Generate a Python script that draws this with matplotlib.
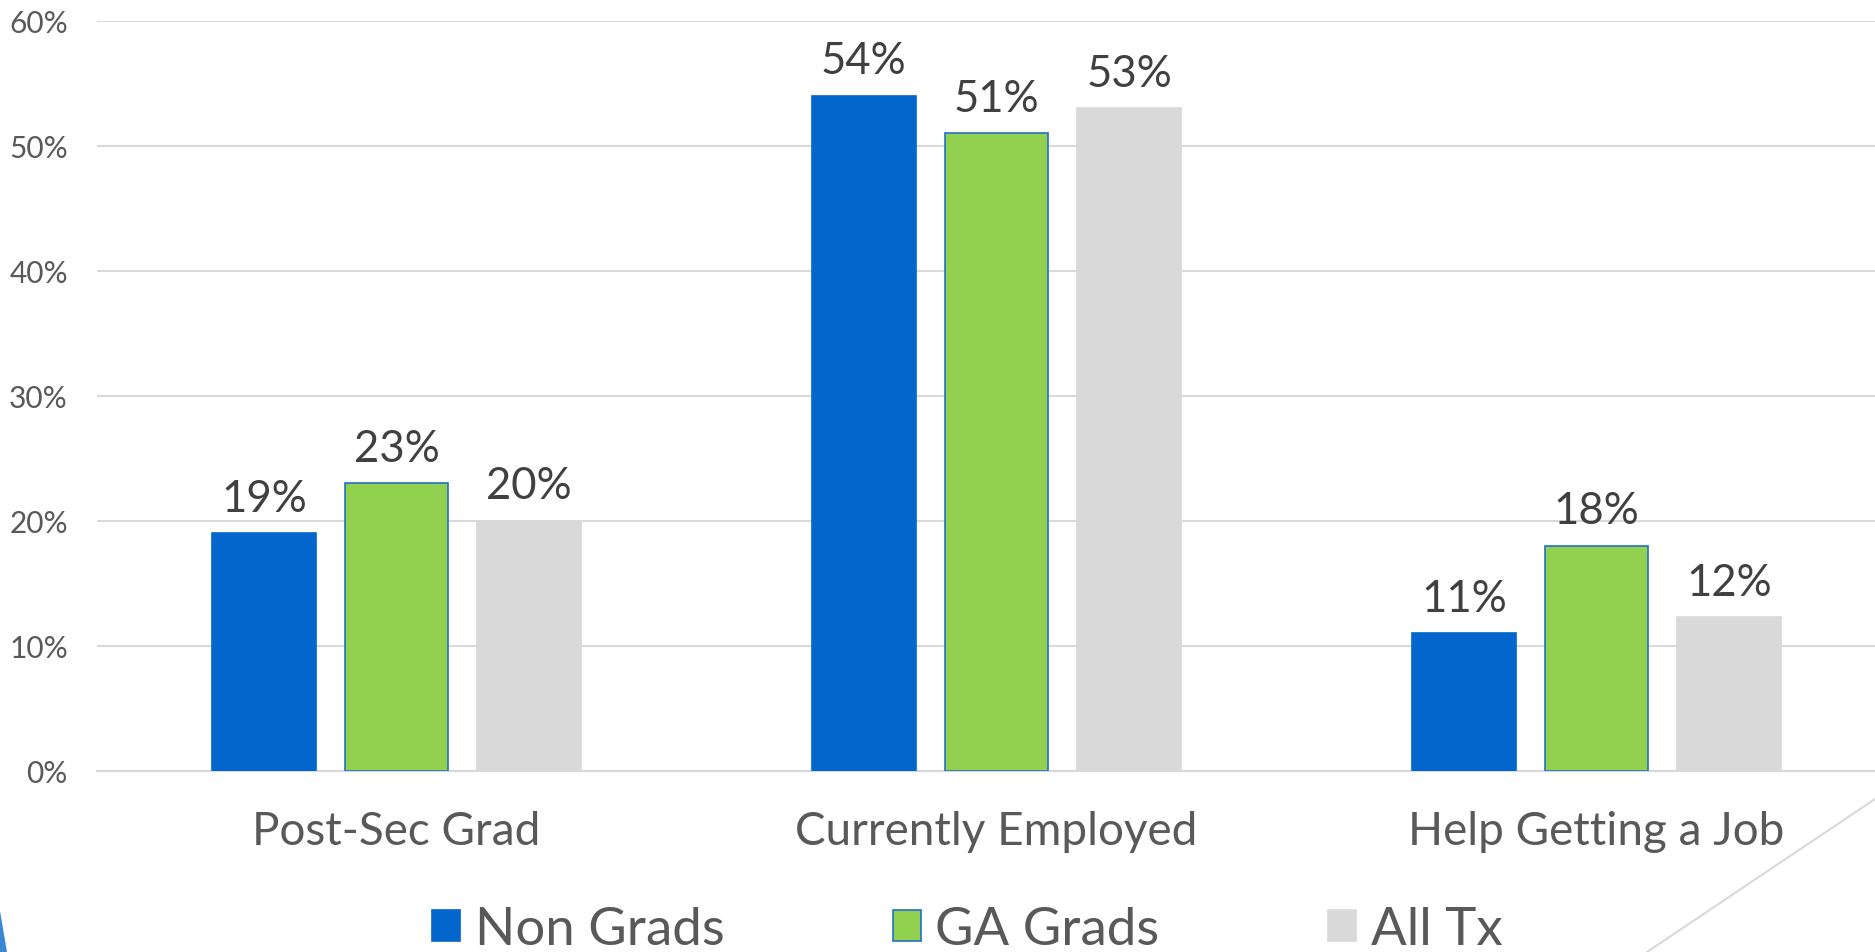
import numpy as np
import matplotlib.pyplot as plt
from matplotlib.patches import Polygon
from matplotlib.lines import Line2D

plt.rcParams['font.family'] = ['Lato', 'DejaVu Sans']

# dados
categorias = ['Post-Sec Grad', 'Currently Employed', 'Help Getting a Job']
series = ['Non Grads', 'GA Grads', 'All Tx']
non_grads = [19, 54, 11]
ga_grads = [23, 51, 18]
all_tx = [20, 53, 12.3]
rotulos_all_tx = ['20%', '53%', '12%']
ticks_y = [0, 10, 20, 30, 40, 50, 60]

cores = ['#0366CC', '#92D050', '#D9D9D9']
bordas = ['#0366CC', '#1F6FD0', '#D9D9D9']

fig = plt.figure(figsize=(18.75, 9.53), dpi=100)
ax = fig.add_axes([97 / 1875, 1 - 771.7 / 953, 1 - 97 / 1875, (771.7 - 21.7) / 953])

x = np.arange(len(categorias))
largura = 0.173
passo = 0.221

valores = [non_grads, ga_grads, all_tx]
barras = []
for i, (nome, vals) in enumerate(zip(series, valores)):
    b = ax.bar(x + (i - 1) * passo, vals, largura, color=cores[i],
               edgecolor=bordas[i], linewidth=1.2, label=nome, zorder=3)
    barras.append(b)
    if i == 2:
        textos = rotulos_all_tx
    else:
        textos = ['%d%%' % v for v in vals]
    for xi, v, t in zip(x + (i - 1) * passo, vals, textos):
        ax.annotate(t, (xi, v), xytext=(0, 16), textcoords='offset points',
                    ha='center', va='baseline', fontsize=31.5, color='#404040')

ax.set_xlim(-0.499, 2.464)
ax.set_ylim(0, 60)
ax.set_yticks(ticks_y)
ax.set_yticklabels(['%d%%' % t for t in ticks_y])
ax.set_xticks(x)
ax.set_xticklabels(categorias)

ax.yaxis.grid(True, color='#D9D9D9', linewidth=1.5, zorder=0)
ax.set_axisbelow(True)
for lado in ['top', 'right', 'left']:
    ax.spines[lado].set_visible(False)
ax.spines['bottom'].set_color('#D9D9D9')
ax.spines['bottom'].set_linewidth(1.5)

ax.tick_params(axis='y', length=0, pad=21, labelsize=21.5, labelcolor='#595959')
ax.tick_params(axis='x', length=0, pad=28, labelsize=33, labelcolor='#595959')

# legenda
fig.legend(handles=barras, labels=series, loc='center',
           bbox_to_anchor=(967 / 1875, 1 - 931 / 953), ncol=3, frameon=False,
           fontsize=38, labelcolor='#595959', handlelength=0.53,
           handleheight=0.53, handletextpad=0.28, columnspacing=3.19,
           borderpad=0, borderaxespad=0)

# detalhes do slide
fig.patches.append(Polygon([[0, 1 - 912 / 953], [7 / 1875, 0], [0, 0]],
                           closed=True, transform=fig.transFigure,
                           facecolor='#3A87D6', edgecolor='none'))
fig.lines.append(Line2D([1.0, 1647 / 1875], [1 - 800 / 953, 0],
                        transform=fig.transFigure, color='#D9D9D9',
                        linewidth=1.5))

fig.savefig('out.png', dpi=100)
